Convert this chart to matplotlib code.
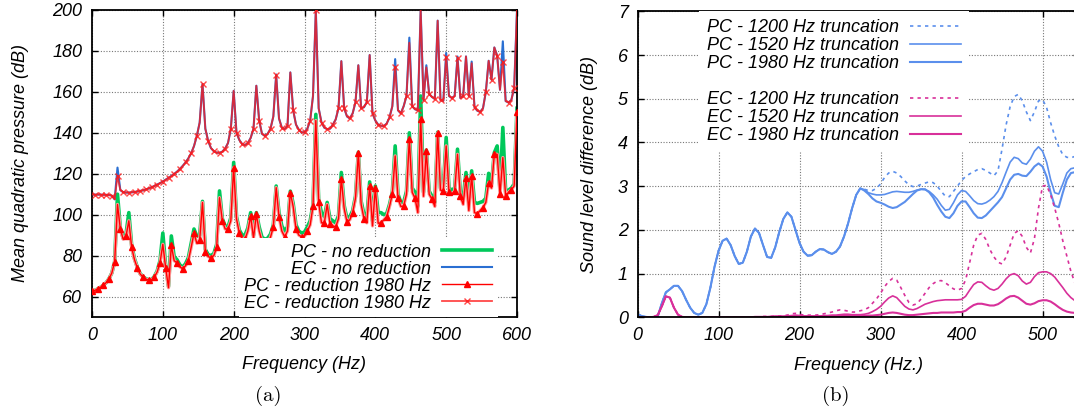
import numpy as np
import matplotlib
matplotlib.use('Agg')
import matplotlib.pyplot as plt
from matplotlib.lines import Line2D

plt.rcParams['font.family'] = 'Liberation Sans'
plt.rcParams['font.style'] = 'italic'
plt.rcParams['font.size'] = 13

# ---- (a) mean quadratic pressure, 4 Hz grid ----
freq_a = np.arange(0, 601, 4)

ec_reduced = [
    109.8, 109.8, 109.8, 109.8, 109.7, 109.7, 109.6, 109.3, 107.5, 119.0,
    112.0, 111.0, 110.8, 110.8, 110.9, 111.1, 111.3, 111.6, 111.9, 112.3,
    112.8, 113.4, 114.0, 114.7, 115.4, 116.2, 117.1, 118.0, 118.9, 119.9,
    121.0, 122.3, 123.8, 125.5, 127.5, 130.0, 133.5, 138.5, 145.0, 163.8,
    142.0, 136.0, 132.5, 131.0, 130.3, 130.2, 130.8, 132.3, 135.0, 142.0,
    160.5, 140.0, 136.5, 134.5, 134.0, 135.0, 137.5, 142.0, 163.0, 146.0,
    139.5, 138.5, 139.5, 142.0, 148.0, 168.0, 147.0, 142.5, 141.8, 143.5,
    169.5, 151.0, 144.0, 141.5, 140.2, 140.3, 142.0, 146.0, 158.0, 200.0,
    152.0, 145.0, 142.5, 141.8, 142.0, 144.0, 146.5, 152.0, 175.0, 152.0,
    148.0, 147.0, 149.5, 155.0, 173.0, 152.0, 152.5, 155.0, 178.0, 149.5,
    146.0, 144.0, 143.4, 143.3, 144.5, 147.5, 153.0, 172.0, 151.0, 149.5,
    153.0, 158.0, 184.0, 153.0, 151.5, 151.0, 200.0, 156.0, 172.0, 159.0,
    157.5, 156.5, 194.8, 156.0, 155.6, 177.0, 158.0, 157.0, 158.0, 176.5,
    157.0, 158.0, 177.3, 158.0, 174.0, 152.5, 150.8, 150.2, 152.0, 160.0,
    175.2, 166.0, 181.7, 177.7, 161.0, 174.7, 155.5, 154.8, 156.0, 162.0,
    200.0]

ec_full = [
    109.8, 109.8, 109.8, 109.8, 109.7, 109.7, 109.6, 109.3, 107.5, 123.0,
    112.0, 111.0, 110.8, 110.8, 110.9, 111.1, 111.3, 111.6, 111.9, 112.3,
    112.8, 113.4, 114.0, 114.7, 115.4, 116.2, 117.1, 118.0, 118.9, 119.9,
    121.0, 122.3, 123.8, 125.5, 127.5, 130.0, 133.5, 138.5, 145.0, 163.8,
    142.0, 136.0, 132.5, 131.0, 130.3, 130.2, 130.8, 132.3, 135.0, 142.0,
    160.5, 140.0, 136.5, 134.5, 134.0, 135.0, 137.5, 142.0, 163.0, 146.0,
    139.5, 138.5, 139.5, 142.0, 148.0, 168.5, 147.0, 142.5, 141.8, 143.5,
    169.5, 151.0, 144.0, 141.5, 140.2, 140.3, 142.0, 146.0, 158.0, 200.0,
    152.0, 145.0, 142.5, 141.8, 142.0, 144.0, 146.5, 152.0, 175.0, 152.0,
    148.0, 147.0, 149.5, 155.0, 173.0, 152.0, 152.5, 155.0, 178.0, 149.5,
    146.0, 144.0, 143.4, 143.3, 144.5, 147.5, 153.0, 176.0, 151.0, 149.5,
    153.0, 158.0, 186.5, 153.0, 151.5, 151.0, 200.0, 156.0, 173.0, 159.0,
    157.5, 156.5, 194.8, 156.0, 155.6, 179.0, 158.0, 157.0, 158.0, 177.3,
    157.0, 158.0, 177.3, 158.0, 174.8, 152.5, 150.8, 150.2, 152.0, 160.0,
    175.2, 166.0, 181.7, 177.7, 161.0, 184.7, 155.5, 154.8, 156.0, 162.0,
    200.0]

pc_reduced = [
    62.8, 63.0, 63.7, 64.5, 65.5, 66.8, 68.7, 71.5, 77.0, 105.0,
    93.0, 88.0, 89.5, 97.0, 84.0, 78.0, 74.0, 71.0, 69.5, 68.5,
    68.0, 68.0, 69.5, 72.0, 76.5, 85.5, 74.0, 64.3, 85.0, 77.5,
    76.5, 74.5, 73.6, 75.0, 77.5, 84.0, 91.0, 86.0, 87.5, 105.9,
    82.0, 79.5, 79.0, 80.0, 84.0, 108.3, 97.0, 93.0, 93.0, 97.0,
    123.0, 98.0, 91.0, 88.5, 88.0, 92.0, 99.3, 88.5, 100.2, 92.0,
    87.0, 85.5, 86.5, 89.0, 94.0, 113.2, 99.0, 92.0, 89.2, 92.0,
    110.8, 104.0, 93.0, 90.0, 89.2, 89.5, 92.0, 95.0, 104.0, 146.0,
    106.0, 96.0, 96.0, 105.0, 95.5, 94.5, 94.0, 98.0, 117.5, 103.0,
    96.4, 97.5, 101.0, 108.0, 130.0, 105.0, 98.0, 96.0, 114.0, 94.5,
    113.0, 95.8, 96.0, 97.5, 99.0, 104.0, 110.0, 128.7, 108.0, 104.0,
    104.2, 110.0, 137.0, 111.0, 108.0, 101.0, 146.7, 109.0, 131.0, 110.0,
    107.6, 104.0, 140.0, 112.0, 111.6, 133.6, 111.0, 110.0, 111.6, 129.5,
    109.0, 105.0, 118.0, 102.0, 119.0, 101.0, 100.5, 102.0, 103.5, 106.0,
    115.7, 113.0, 129.5, 129.5, 110.0, 127.9, 109.0, 111.0, 112.1, 114.0,
    150.0]

pc_full = [
    62.8, 63.0, 63.7, 64.5, 65.5, 66.8, 68.7, 71.5, 77.0, 110.0,
    93.5, 88.5, 90.5, 101.0, 85.0, 78.5, 74.3, 71.2, 69.7, 68.7,
    68.2, 68.2, 69.8, 72.5, 77.5, 91.0, 75.0, 65.0, 89.6, 79.5,
    78.0, 75.5, 74.3, 76.0, 79.0, 86.0, 93.0, 89.5, 90.0, 106.5,
    83.0, 80.5, 80.0, 81.0, 85.5, 111.6, 98.0, 94.5, 94.0, 98.5,
    125.5, 99.0, 92.5, 90.0, 90.0, 93.5, 101.0, 90.0, 101.0, 94.0,
    89.0, 88.0, 88.5, 90.5, 95.0, 114.0, 101.0, 94.5, 92.0, 94.0,
    111.5, 105.5, 95.0, 92.0, 91.0, 91.5, 94.0, 97.0, 105.0, 149.0,
    107.0, 101.0, 99.0, 106.0, 98.0, 97.0, 96.0, 99.5, 120.6, 104.5,
    98.0, 99.0, 102.0, 109.0, 130.5, 106.5, 100.0, 99.0, 116.0, 97.0,
    114.0, 101.0, 101.0, 100.0, 100.5, 105.0, 111.0, 133.6, 110.0, 106.0,
    106.0, 111.5, 140.0, 113.0, 111.0, 104.0, 158.0, 111.0, 131.5, 111.5,
    109.0, 106.0, 140.3, 113.0, 113.0, 137.7, 113.0, 112.0, 113.0, 132.0,
    111.0, 108.0, 120.6, 106.0, 121.4, 106.0, 105.5, 106.0, 106.5, 108.0,
    120.2, 115.0, 130.3, 133.6, 112.0, 142.6, 111.0, 112.0, 113.0, 115.0,
    152.0]

# ---- (b) sound level difference, 5 Hz grid ----
freq_b = np.arange(0, 551, 5)

pc_common = [  # 0..275 Hz, all truncations coincide
    0.07, 0.03, 0.01, 0.00, 0.00, 0.02, 0.32, 0.57, 0.64, 0.72,
    0.72, 0.60, 0.40, 0.22, 0.10, 0.06, 0.10, 0.30, 0.68, 1.15,
    1.52, 1.75, 1.80, 1.65, 1.40, 1.22, 1.25, 1.50, 1.85, 2.03,
    1.93, 1.65, 1.38, 1.36, 1.60, 1.95, 2.25, 2.40, 2.30, 2.00,
    1.70, 1.50, 1.41, 1.42, 1.50, 1.56, 1.55, 1.49, 1.45, 1.50,
    1.62, 1.85, 2.15, 2.50, 2.80, 2.95]
pc_1200_tail = [  # 280..550 Hz
    2.93, 2.90, 2.90, 2.95, 3.05, 3.20, 3.30, 3.34, 3.30, 3.22,
    3.12, 3.03, 2.99, 3.00, 3.04, 3.07, 3.10, 3.08, 3.00, 2.88,
    2.77, 2.76, 2.88, 3.00, 3.13, 3.22, 3.28, 3.33, 3.38, 3.40,
    3.36, 3.30, 3.24, 3.35, 3.85, 4.40, 4.82, 5.05, 5.10, 4.95,
    4.70, 4.50, 4.70, 4.95, 4.98, 4.80, 4.45, 4.15, 3.90, 3.72,
    3.66, 3.65, 3.68, 3.72, 3.75]
pc_1520_tail = [
    2.92, 2.85, 2.82, 2.80, 2.80, 2.81, 2.84, 2.87, 2.88, 2.87,
    2.86, 2.86, 2.88, 2.91, 2.93, 2.92, 2.88, 2.80, 2.70, 2.56,
    2.45, 2.47, 2.62, 2.80, 2.90, 2.88, 2.78, 2.67, 2.60, 2.59,
    2.62, 2.68, 2.76, 2.88, 3.08, 3.32, 3.55, 3.66, 3.63, 3.53,
    3.50, 3.62, 3.80, 3.90, 3.80, 3.55, 3.15, 2.85, 2.82, 3.05,
    3.30, 3.40, 3.42, 3.40, 3.38]
pc_1980_tail = [
    2.90, 2.82, 2.72, 2.65, 2.62, 2.58, 2.53, 2.50, 2.52, 2.58,
    2.64, 2.73, 2.82, 2.90, 2.93, 2.93, 2.86, 2.74, 2.57, 2.42,
    2.30, 2.27, 2.38, 2.55, 2.65, 2.65, 2.52, 2.38, 2.28, 2.27,
    2.33, 2.43, 2.53, 2.63, 2.75, 2.95, 3.15, 3.26, 3.28, 3.24,
    3.23, 3.33, 3.45, 3.52, 3.45, 3.22, 2.85, 2.55, 2.52, 2.85,
    3.15, 3.30, 3.32, 3.30, 3.28]

ec_common = [  # 0..145 Hz
    0.00, 0.00, 0.00, 0.00, 0.01, 0.05, 0.25, 0.48, 0.45, 0.22,
    0.06, 0.01, 0.00, 0.00, 0.00, 0.00, 0.00, 0.00, 0.00, 0.00,
    0.00, 0.00, 0.00, 0.00, 0.00, 0.00, 0.00, 0.00, 0.00, 0.01]
ec_1200_tail = [  # 150..550 Hz
    0.01, 0.02, 0.02, 0.02, 0.03, 0.03, 0.04, 0.05, 0.08, 0.09,
    0.07, 0.05, 0.05, 0.05, 0.05, 0.06, 0.08, 0.10, 0.12, 0.15,
    0.17, 0.16, 0.14, 0.12, 0.12, 0.15, 0.17, 0.22, 0.32, 0.42,
    0.55, 0.70, 0.82, 0.89, 0.85, 0.68, 0.50, 0.34, 0.28, 0.31,
    0.42, 0.55, 0.68, 0.77, 0.83, 0.84, 0.79, 0.72, 0.65, 0.62,
    0.66, 0.85, 1.25, 1.65, 1.88, 1.92, 1.78, 1.55, 1.38, 1.26,
    1.22, 1.38, 1.65, 1.92, 1.98, 1.85, 1.60, 1.47, 1.80, 2.50,
    3.00, 3.02, 2.80, 2.50, 2.15, 1.75, 1.40, 1.05, 0.78, 0.58,
    0.45]
ec_1520_tail = [
    0.01, 0.01, 0.01, 0.02, 0.02, 0.02, 0.02, 0.03, 0.04, 0.05,
    0.04, 0.03, 0.03, 0.03, 0.03, 0.03, 0.04, 0.04, 0.05, 0.05,
    0.06, 0.07, 0.07, 0.06, 0.06, 0.06, 0.07, 0.09, 0.13, 0.18,
    0.25, 0.35, 0.44, 0.49, 0.45, 0.35, 0.25, 0.19, 0.17, 0.20,
    0.25, 0.30, 0.33, 0.36, 0.38, 0.39, 0.40, 0.40, 0.40, 0.40,
    0.41, 0.48, 0.62, 0.75, 0.81, 0.80, 0.72, 0.65, 0.62, 0.66,
    0.76, 0.88, 0.97, 1.00, 0.95, 0.83, 0.76, 0.80, 0.93, 1.02,
    1.04, 1.04, 1.00, 0.92, 0.80, 0.68, 0.55, 0.45, 0.38, 0.33,
    0.30]
ec_1980_tail = [
    0.01, 0.01, 0.01, 0.01, 0.02, 0.02, 0.02, 0.02, 0.02, 0.03,
    0.03, 0.02, 0.02, 0.02, 0.02, 0.02, 0.02, 0.03, 0.03, 0.03,
    0.03, 0.03, 0.03, 0.03, 0.03, 0.03, 0.03, 0.04, 0.04, 0.05,
    0.06, 0.08, 0.10, 0.11, 0.10, 0.08, 0.06, 0.05, 0.05, 0.06,
    0.07, 0.08, 0.09, 0.10, 0.10, 0.11, 0.11, 0.11, 0.11, 0.12,
    0.12, 0.15, 0.22, 0.28, 0.31, 0.31, 0.29, 0.27, 0.27, 0.30,
    0.36, 0.43, 0.48, 0.49, 0.45, 0.38, 0.31, 0.29, 0.32, 0.37,
    0.39, 0.39, 0.36, 0.30, 0.23, 0.17, 0.13, 0.11, 0.10, 0.09,
    0.08]

pc_1200 = pc_common + pc_1200_tail
pc_1520 = pc_common + pc_1520_tail
pc_1980 = pc_common + pc_1980_tail
ec_1200 = ec_common + ec_1200_tail
ec_1520 = ec_common + ec_1520_tail
ec_1980 = ec_common + ec_1980_tail

GREEN = '#00c85a'
BLUE_A = '#2a6fd2'
RED = '#ff0000'
RED_EC = '#ff1a1a'
HALO = '#ff9c9c'
BLUE_B = '#5b8fec'
MAGENTA = '#d8309a'
grid_style = dict(color='#777777', linestyle=(0, (1, 1.5)), linewidth=0.8)

fig = plt.figure(figsize=(10.74, 4.11), dpi=100)

# ---------- panel (a) ----------
ax1 = fig.add_axes([92 / 1074, 94 / 411, 425 / 1074, 307 / 411])
ax1.plot(freq_a, pc_full, color=GREEN, lw=2.6, label='PC - no reduction', zorder=2)
ax1.plot(freq_a, ec_full, color=BLUE_A, lw=1.5, label='EC - no reduction', zorder=2)
# light halo under the PC red curve, as in the antialiased original
ax1.plot(freq_a, pc_reduced, color=HALO, lw=2.4, zorder=2.5)
ax1.plot(freq_a, pc_reduced, color=RED, lw=1.0, marker='^', ms=4.5,
         markevery=(0, 2), label='PC - reduction 1980 Hz', zorder=3)
ax1.plot(freq_a, ec_reduced, color=RED_EC, lw=1.3, alpha=0.8, marker='x', ms=4.5,
         mew=1.0, markevery=(1, 2), label='EC - reduction 1980 Hz', zorder=3)
ax1.set_xlim(0, 600)
ax1.set_ylim(50, 200)
ax1.set_xticks(range(0, 601, 100))
ax1.set_yticks(range(60, 201, 20))
ax1.grid(True, **grid_style)
ax1.set_axisbelow(True)
ax1.set_xlabel('Frequency (Hz)', labelpad=9)
ax1.set_ylabel('Mean quadratic pressure (dB)', labelpad=17)
ax1.legend(loc='lower right', bbox_to_anchor=(0.955, 0.0), markerfirst=False,
           frameon=True, fancybox=False, edgecolor='none', facecolor='white',
           framealpha=1.0, handlelength=2.8, handletextpad=0.6,
           labelspacing=0.0, borderpad=0.3, borderaxespad=0.0, numpoints=1)

# ---------- panel (b) ----------
ax2 = fig.add_axes([637.5 / 1074, 93.7 / 411, 441.5 / 1074, 306 / 411])
ax2.plot(freq_b, pc_1200, color=BLUE_B, lw=1.2, linestyle=(0, (2, 2.5)),
         label='PC - 1200 Hz truncation')
ax2.plot(freq_b, pc_1520, color=BLUE_B, lw=1.2, label='PC - 1520 Hz truncation')
ax2.plot(freq_b, pc_1980, color=BLUE_B, lw=1.5, label='PC - 1980 Hz truncation')
ax2.plot(freq_b, ec_1200, color=MAGENTA, lw=1.2, linestyle=(0, (2, 2.5)),
         label='EC - 1200 Hz truncation')
ax2.plot(freq_b, ec_1520, color=MAGENTA, lw=1.2, label='EC - 1520 Hz truncation')
ax2.plot(freq_b, ec_1980, color=MAGENTA, lw=1.5, label='EC - 1980 Hz truncation')
ax2.set_xlim(0, 545)
ax2.set_ylim(0, 7)
ax2.set_xticks(range(0, 501, 100))
ax2.set_yticks(range(0, 8))
ax2.grid(True, **grid_style)
ax2.set_axisbelow(True)
ax2.set_xlabel('Frequency (Hz.)', labelpad=9)
ax2.set_ylabel('Sound level difference (dB)', labelpad=14)

handles, labels = ax2.get_legend_handles_labels()
blank = Line2D([], [], linestyle='none')
handles = handles[:3] + [blank] + handles[3:]
labels = labels[:3] + [' '] + labels[3:]
ax2.legend(handles, labels, loc='upper right', bbox_to_anchor=(0.75, 1.0),
           markerfirst=False, frameon=True, fancybox=False, edgecolor='none',
           facecolor='white', framealpha=1.0, handlelength=2.8, handletextpad=0.6,
           labelspacing=0.05, borderpad=0.45, borderaxespad=0.0)

for ax in (ax1, ax2):
    ax.tick_params(direction='in', length=4, width=1, pad=7, top=True, right=True)
    for s in ax.spines.values():
        s.set_linewidth(1.3)

fig.text(268 / 1074, 1 - 396 / 411, '(a)', family='cmr10', style='normal',
         fontsize=15, ha='center', va='center')
fig.text(836 / 1074, 1 - 396 / 411, '(b)', family='cmr10', style='normal',
         fontsize=15, ha='center', va='center')

fig.savefig('out.png', dpi=100)
